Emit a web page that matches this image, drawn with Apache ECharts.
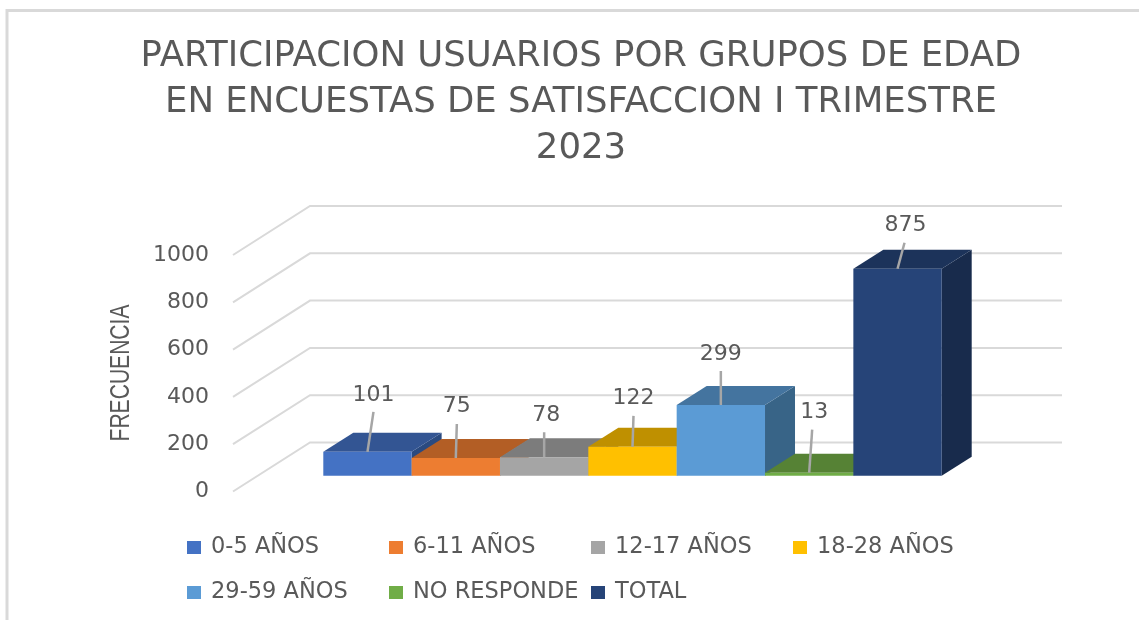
<!DOCTYPE html>
<html>
<head>
<meta charset="utf-8">
<title>Participacion usuarios</title>
<script src="https://cdn.jsdelivr.net/npm/echarts@6/dist/echarts.min.js"></script>
<style>
  html, body { margin: 0; padding: 0; background: #fff; }
  #chart { width: 1139px; height: 620px; }
</style>
</head>
<body>
<div id="chart"></div>
<script>
const categories = ['0-5 AÑOS', '6-11 AÑOS', '12-17 AÑOS', '18-28 AÑOS', '29-59 AÑOS', 'NO RESPONDE', 'TOTAL'];
const values = [101, 75, 78, 122, 299, 13, 875];
const yTicks = [0, 200, 400, 600, 800, 1000];

const frontColors = ['#4472c4', '#ed7d31', '#a5a5a5', '#ffc000', '#5b9bd5', '#70ad47', '#264478'];
const topColors = ['#335593', '#b35e25', '#7c7c7c', '#bf9000', '#44749f', '#568235', '#1c335a'];
const sideColors = ['#2a4a80', '#9a5020', '#6b6b6b', '#a57c00', '#386487', '#4a702d', '#182b4c'];

// where the gray leader line of every data label ends, relative to the bar top
const leaderEnds = [[6, -40], [1, -34], [0, -25], [1, -31], [0, -34], [3, -43], [7, -26]];
const labelShifts = [[0, -17], [0, -18], [2, -17], [0, -18], [0, -17], [2, -17], [1, -17]];

const textColor = '#595959';
const fontName = 'DejaVu Sans';

const wallDepth = [77, -49];
const barDepth = [30, -19];

function renderWall(params, api) {
  const a = api.coord([0, api.value(0)]);
  const b = api.coord([1, api.value(0)]);
  return {
    type: 'polyline',
    silent: true,
    shape: { points: [a, [a[0] + wallDepth[0], a[1] + wallDepth[1]], [b[0] + wallDepth[0], b[1] + wallDepth[1]]] },
    style: { fill: null, stroke: '#d9d9d9', lineWidth: 2 }
  };
}

function renderBar(params, api) {
  const i = params.seriesIndex - 1;
  const top = api.coord([api.value(0), api.value(1)]);
  const base = api.coord([api.value(0), 0]);
  const w = api.size([1, 0])[0];
  const l = top[0] - w / 2;
  const r = top[0] + w / 2;
  const dx = barDepth[0];
  const dy = barDepth[1];
  const lineEnd = [top[0] + leaderEnds[i][0], top[1] + leaderEnds[i][1]];
  return {
    type: 'group',
    children: [
      { type: 'polygon', shape: { points: [[r, top[1]], [r + dx, top[1] + dy], [r + dx, base[1] + dy], [r, base[1]]] }, style: { fill: sideColors[i] } },
      { type: 'polygon', shape: { points: [[l, top[1]], [l + dx, top[1] + dy], [r + dx, top[1] + dy], [r, top[1]]] }, style: { fill: topColors[i] } },
      { type: 'rect', shape: { x: l, y: top[1], width: w, height: base[1] - top[1] }, style: { fill: frontColors[i] } },
      { type: 'line', shape: { x1: top[0], y1: top[1], x2: lineEnd[0], y2: lineEnd[1] }, style: { stroke: '#a6a6a6', lineWidth: 2.5 } },
      {
        type: 'text',
        style: {
          text: String(api.value(1)),
          x: lineEnd[0] + labelShifts[i][0],
          y: lineEnd[1] + labelShifts[i][1],
          align: 'center',
          verticalAlign: 'middle',
          fill: textColor,
          fontSize: 22,
          fontFamily: fontName
        }
      }
    ]
  };
}

const myChart = echarts.init(document.getElementById('chart'));

myChart.setOption({
  animation: false,
  title: {
    text: 'PARTICIPACION USUARIOS POR GRUPOS DE EDAD\nEN ENCUESTAS DE SATISFACCION I TRIMESTRE\n2023',
    left: 576,
    top: 29,
    textAlign: 'center',
    textStyle: { color: textColor, fontSize: 35.5, fontWeight: 'normal', fontFamily: fontName, lineHeight: 46 }
  },
  legend: {
    left: 182,
    top: 526,
    width: 830,
    data: categories,
    icon: 'rect',
    itemWidth: 14,
    itemHeight: 13,
    itemGap: 12,
    itemStyle: { borderWidth: 0 },
    textStyle: { color: textColor, fontSize: 22.5, fontFamily: fontName, width: 166, lineHeight: 33, overflow: 'none', padding: [0, 0, 0, 5] }
  },
  grid: [
    { left: 233, top: 255, width: 752, height: 236.5 },
    { left: 323.3, top: 239.2, width: 618.4, height: 236.5 }
  ],
  xAxis: [
    { gridIndex: 0, type: 'value', min: 0, max: 1, show: false },
    { gridIndex: 1, type: 'category', data: categories, show: false }
  ],
  yAxis: [
    {
      gridIndex: 0,
      type: 'value',
      min: yTicks[0],
      max: yTicks[yTicks.length - 1],
      interval: 200,
      axisLine: { show: false },
      axisTick: { show: false },
      splitLine: { show: false },
      axisLabel: { color: textColor, fontSize: 22, fontFamily: fontName, margin: 24, formatter: v => String(v) }
    },
    { gridIndex: 1, type: 'value', min: yTicks[0], max: yTicks[yTicks.length - 1], show: false }
  ],
  series: [
    {
      type: 'custom',
      name: 'paredes',
      xAxisIndex: 0,
      yAxisIndex: 0,
      silent: true,
      z: 1,
      renderItem: renderWall,
      encode: { y: 0 },
      data: yTicks.map(v => [v])
    }
  ].concat(categories.map((name, i) => ({
    type: 'custom',
    name: name,
    xAxisIndex: 1,
    yAxisIndex: 1,
    z: 2,
    itemStyle: { color: frontColors[i] },
    renderItem: renderBar,
    encode: { x: 0, y: 1 },
    data: [[i, values[i]]]
  }))),
  graphic: [
    {
      type: 'polyline',
      silent: true,
      shape: { points: [[7, 620], [7, 10.5], [1139, 10.5]] },
      style: { fill: null, stroke: '#d9d9d9', lineWidth: 3 }
    },
    {
      // the axis title is squeezed along its length in the original
      type: 'text',
      silent: true,
      x: 122,
      y: 373,
      rotation: Math.PI / 2,
      scaleX: 0.78,
      style: { text: 'FRECUENCIA', align: 'center', verticalAlign: 'middle', fill: textColor, fontSize: 27, fontFamily: 'Liberation Sans' }
    }
  ]
});

window.addEventListener('resize', () => {
  myChart.resize();
});
</script>
</body>
</html>
